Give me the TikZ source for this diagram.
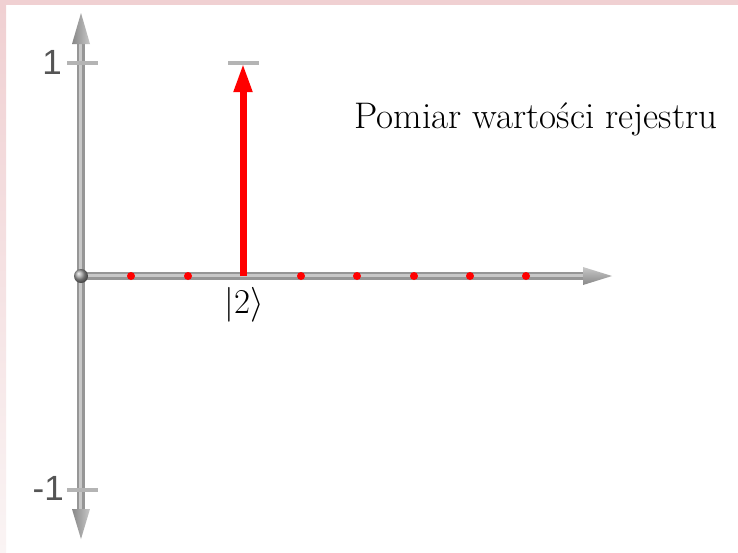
\documentclass[tikz,border=0pt]{standalone}
\usepackage{fontspec}
\newfontfamily\axisfont{Liberation Sans}
\usetikzlibrary{arrows.meta}
\definecolor{pinkbg}{RGB}{240,208,210}
\definecolor{pinklight}{RGB}{250,244,244}
\definecolor{axisdark}{RGB}{150,150,150}
\definecolor{axislight}{RGB}{200,200,200}
\definecolor{tickgray}{RGB}{180,180,180}
\definecolor{labelgray}{RGB}{85,85,85}
\tikzset{
  axisline/.style={line width=8pt, axisdark},
  axishi/.style={line width=3pt, axislight},
  axishead/.style={left color=axisdark!90!black, right color=axislight, draw=none},
  tickmark/.style={line width=4pt, tickgray},
  statedot/.style={circle, fill=red, inner sep=0pt, minimum size=8pt},
  ticklabel/.style={font=\axisfont\fontsize{35}{40}\selectfont, text=labelgray, anchor=east, inner sep=0pt},
  mathlabel/.style={font=\Huge, scale=1.4, inner sep=0pt},
  titlelabel/.style={font=\fontsize{37}{44}\selectfont, inner sep=0pt},
}
\begin{document}
\begin{tikzpicture}[x=1pt,y=-1pt]
\useasboundingbox (0,0) rectangle (738,552);
% background frame
\fill[white] (0,0) rectangle (738,552);
\fill[pinkbg] (0,0) rectangle (738,5);
\shade[top color=pinkbg, bottom color=pinklight] (0,5) rectangle (6,552);
% coordinates
\coordinate (O) at (81,276);
\coordinate (ytop) at (81,13);
\coordinate (ybot) at (81,539);
\coordinate (xend) at (612,276);
% vertical axis
\draw[axisline] (81,43) -- (81,510);
\draw[axishi] (80,43) -- (80,510);
\shade[axishead] (72,44) -- (ytop) -- (90,44) -- cycle;
\shade[axishead] (72,509) -- (ybot) -- (90,509) -- cycle;
% horizontal axis
\draw[axisline] (O) -- (584,276);
\draw[axishi] (81,275) -- (584,275);
\shade[top color=axislight, bottom color=axisdark!90!black] (583,267) -- (xend) -- (583,285) -- cycle;
% ticks
\coordinate (t1l) at (67,63); \coordinate (t1r) at (98,63);
\coordinate (tml) at (67,490); \coordinate (tmr) at (98,490);
\draw[tickmark] (t1l) -- (t1r);
\draw[tickmark] (tml) -- (tmr);
\node[ticklabel] (lab1) at (62,62) {1};
\node[ticklabel] (labm1) at (64,488) {-1};
% origin ball
\shade[ball color=gray!75] (O) circle (7pt);
% red arrow
\coordinate (rbase) at (243,276);
\coordinate (rtip) at (243,63);
\draw[tickmark] (228,63) -- (259,63);
\draw[line width=7pt, red, -{Triangle[length=29pt,width=17pt]}] (rbase) -- (rtip);
% state dots
\foreach \i/\xx in {0/131,1/188,3/301,4/357,5/414,6/470,7/526}
  \node[statedot] (s\i) at (\xx,276) {};
% labels
\node[mathlabel, anchor=north] (ket) at (244,287) {$|2\rangle$};
\node[titlelabel, anchor=base] (title) at (536,128) {Pomiar wartości rejestru};
\end{tikzpicture}
\end{document}
